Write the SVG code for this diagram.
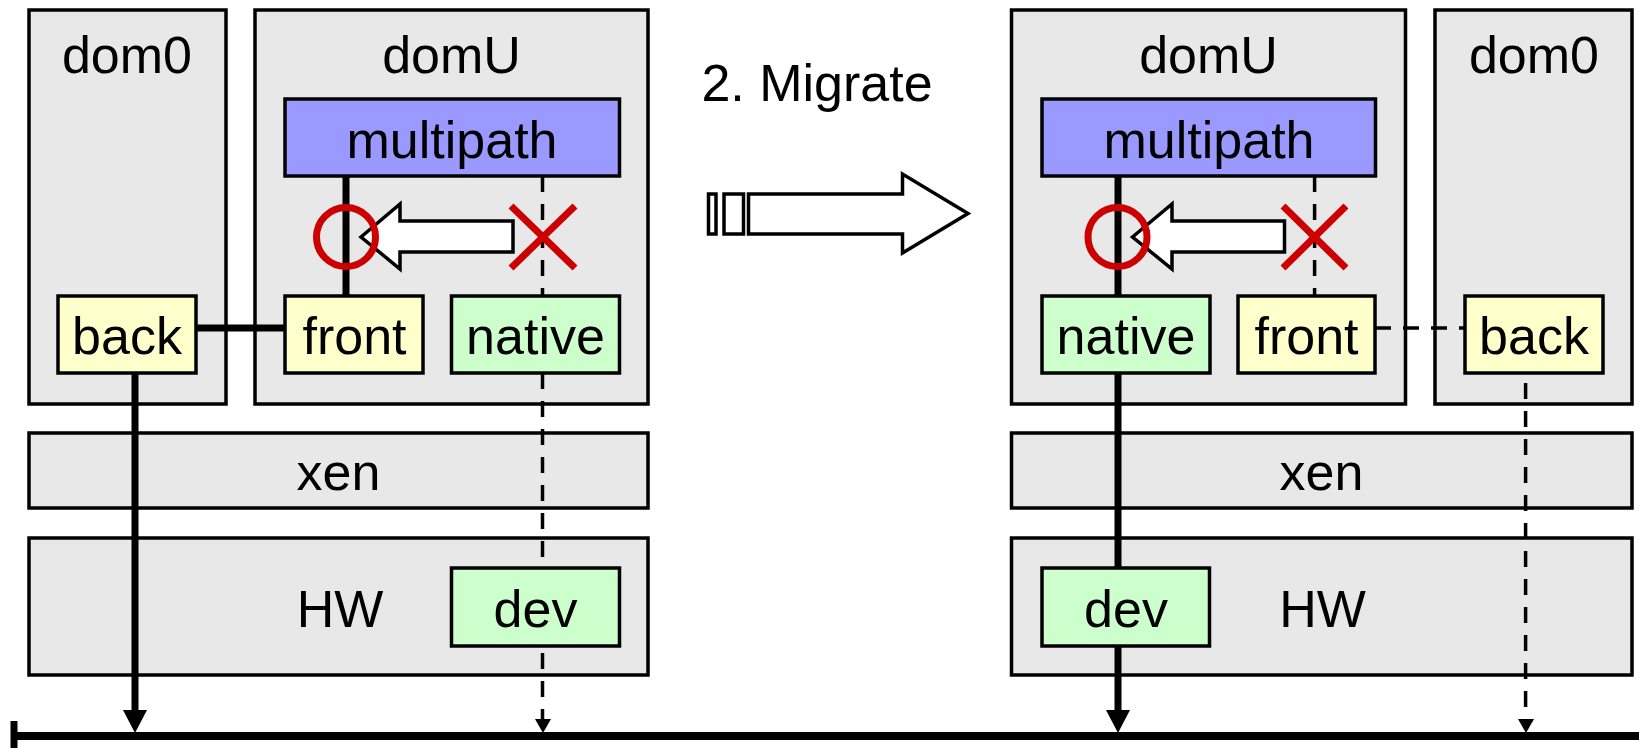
<svg xmlns="http://www.w3.org/2000/svg" width="1639" height="748" viewBox="0 0 1639 748">
<style>
.big{fill:#e8e8e8;stroke:#000;stroke-width:3.5}
.mp{fill:#9999ff;stroke:#000;stroke-width:3.5}
.yl{fill:#ffffcc;stroke:#000;stroke-width:3.5}
.gr{fill:#ccffcc;stroke:#000;stroke-width:3.5}
.t{font-family:"Liberation Sans",Arial,sans-serif;font-size:52px;fill:#000;text-anchor:middle}
.solid{stroke:#000;stroke-width:7;fill:none}
.dash{stroke:#000;stroke-width:3.5;fill:none;stroke-dasharray:16,12}
.ok{fill:none;stroke:#cc0000;stroke-width:7}
.ng{stroke:#cc0000;stroke-width:7}
.hollow{fill:#fff;stroke:#000;stroke-width:3.5}
</style>
<g id="left-dom0"><rect class="big" x="29" y="10" width="197" height="394"/><text class="t" x="127" y="73">dom0</text></g>
<g id="left-domU"><rect class="big" x="255" y="10" width="393" height="394"/><text class="t" x="451.5" y="73">domU</text></g>
<g id="left-xen"><rect class="big" x="29" y="433" width="619" height="75"/><text class="t" x="338.5" y="490">xen</text></g>
<g id="left-HW"><rect class="big" x="29" y="538" width="619" height="137"/><text class="t" x="340" y="627">HW</text></g>
<g id="right-domU"><rect class="big" x="1011.5" y="10" width="394" height="394"/><text class="t" x="1208.5" y="73">domU</text></g>
<g id="right-dom0"><rect class="big" x="1435" y="10" width="197" height="394"/><text class="t" x="1534" y="73">dom0</text></g>
<g id="right-xen"><rect class="big" x="1011.5" y="433" width="620.5" height="75"/><text class="t" x="1321.5" y="490">xen</text></g>
<g id="right-HW"><rect class="big" x="1011.5" y="538" width="620.5" height="137"/><text class="t" x="1322.5" y="627">HW</text></g>
<g id="connectors">
<line class="solid" x1="346" y1="176" x2="346" y2="296"/>
<line class="solid" x1="196" y1="328" x2="285" y2="328"/>
<line class="solid" x1="135" y1="373" x2="135" y2="712"/>
<polygon points="123,710 147,710 135,733" fill="#000"/>
<line class="dash" x1="542.5" y1="176" x2="542.5" y2="296"/>
<line class="dash" x1="542.5" y1="373" x2="542.5" y2="720"/>
<polygon points="535,719 551,719 543,733" fill="#000"/>
<line class="solid" x1="1118" y1="176" x2="1118" y2="296"/>
<line class="solid" x1="1118" y1="373" x2="1118" y2="712"/>
<polygon points="1106,710 1130,710 1118,733" fill="#000"/>
<line class="dash" x1="1314.6" y1="176" x2="1314.6" y2="296"/>
<line class="dash" x1="1375" y1="328" x2="1465" y2="328"/>
<line class="dash" x1="1525.6" y1="383" x2="1525.6" y2="720"/>
<polygon points="1518,719 1534,719 1526,733" fill="#000"/>
<line x1="14" y1="736" x2="1639" y2="736" stroke="#000" stroke-width="8"/>
<line x1="14" y1="721" x2="14" y2="748" stroke="#000" stroke-width="7"/>
</g>
<g id="left-multipath"><rect class="mp" x="285" y="99" width="334.5" height="77"/><text class="t" x="452" y="158">multipath</text></g>
<g id="left-back"><rect class="yl" x="58" y="296" width="138" height="77"/><text class="t" x="127" y="354">back</text></g>
<g id="left-front"><rect class="yl" x="285" y="296" width="138" height="77"/><text class="t" x="354.5" y="354">front</text></g>
<g id="left-native"><rect class="gr" x="451.5" y="296" width="168" height="77"/><text class="t" x="535.5" y="354">native</text></g>
<g id="left-dev"><rect class="gr" x="451.5" y="568" width="168" height="78"/><text class="t" x="535.5" y="627">dev</text></g>
<g id="right-multipath"><rect class="mp" x="1042" y="99" width="333.5" height="77"/><text class="t" x="1209" y="158">multipath</text></g>
<g id="right-native"><rect class="gr" x="1042" y="296" width="168" height="77"/><text class="t" x="1126" y="354">native</text></g>
<g id="right-front"><rect class="yl" x="1238" y="296" width="137" height="77"/><text class="t" x="1306.5" y="354">front</text></g>
<g id="right-back"><rect class="yl" x="1465" y="296" width="138" height="77"/><text class="t" x="1534" y="354">back</text></g>
<g id="right-dev"><rect class="gr" x="1042" y="568" width="167.5" height="78"/><text class="t" x="1126" y="627">dev</text></g>
<g id="left-switch">
<polygon class="hollow" points="361,237 400,204 400,221 513,221 513,252 400,252 400,269"/>
<circle class="ok" cx="346" cy="237" r="29.5"/>
<line class="ng" x1="511" y1="206" x2="575" y2="268"/>
<line class="ng" x1="575" y1="206" x2="511" y2="268"/>
</g>
<g id="right-switch">
<polygon class="hollow" points="1132.5,237 1172,204 1172,221 1284.5,221 1284.5,252 1172,252 1172,269"/>
<circle class="ok" cx="1117.5" cy="237" r="29.5"/>
<line class="ng" x1="1283" y1="206" x2="1346" y2="268"/>
<line class="ng" x1="1346" y1="206" x2="1283" y2="268"/>
</g>
<g id="migrate">
<text class="t" x="817" y="101">2. Migrate</text>
<rect class="hollow" x="708.5" y="194" width="7.5" height="40"/>
<rect class="hollow" x="724" y="194" width="19.5" height="40"/>
<polygon class="hollow" points="748.5,194 902.5,194 902.5,174 968,213.5 902.5,253 902.5,234 748.5,234"/>
</g>
</svg>
